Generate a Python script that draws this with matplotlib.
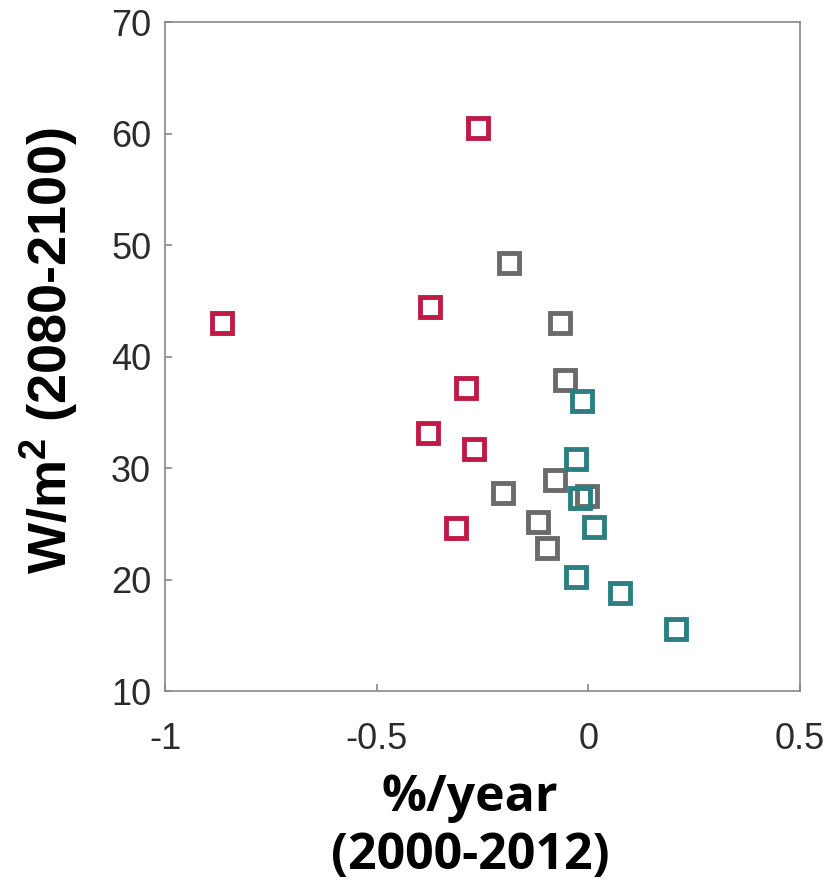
import matplotlib.pyplot as plt

# Data
red_x = [-0.865, -0.261, -0.374, -0.289, -0.379, -0.270, -0.312]
red_y = [43.0, 60.5, 44.4, 37.2, 33.1, 31.7, 24.6]

gray_x = [-0.187, -0.067, -0.055, -0.202, -0.079, -0.003, -0.119, -0.098]
gray_y = [48.4, 43.0, 37.9, 27.8, 28.9, 27.5, 25.2, 22.8]

teal_x = [-0.015, -0.029, -0.020, 0.013, -0.029, 0.075, 0.207]
teal_y = [36.0, 30.8, 27.3, 24.7, 20.2, 18.8, 15.6]

xticks = [-1, -0.5, 0, 0.5]
xtick_labels = ['-1', '-0.5', '0', '0.5']
yticks = [10, 20, 30, 40, 50, 60, 70]

fig = plt.figure(figsize=(8.31, 8.85), dpi=100)
ax = fig.add_axes([0.1986, 0.2192, 0.7641, 0.7559])

mk = dict(marker='s', linestyle='none', markersize=15, markeredgewidth=3.5,
          markerfacecolor='none')
ax.plot(red_x, red_y, markeredgecolor='#BE1A45', **mk)
ax.plot(gray_x, gray_y, markeredgecolor='#6A6A6A', **mk)
ax.plot(teal_x, teal_y, markeredgecolor='#2B7F80', **mk)

ax.set_xlim(-1, 0.5)
ax.set_ylim(10, 70)
ax.set_xticks(xticks)
ax.set_xticklabels(xtick_labels)
ax.set_yticks(yticks)

for s in ax.spines.values():
    s.set_color('#878787')
    s.set_linewidth(1.2)

ax.tick_params(direction='in', length=5, width=1.2, color='#878787',
               labelsize=26, labelcolor='#2b2b2b', pad=10)
ax.tick_params(axis='x', pad=22)
for lab in ax.get_xticklabels() + ax.get_yticklabels():
    lab.set_family('Liberation Sans')

ax.set_xlabel('%/year\n(2000-2012)', fontsize=36, fontweight='bold',
              family='Open Sans', linespacing=1.22)
ax.xaxis.set_label_coords(0.480, -0.122)
ax.set_ylabel('W/m$^\\mathregular{2}$ (2080-2100)', fontsize=39, fontweight='bold',
              family='Liberation Sans')
ax.yaxis.set_label_coords(-0.134, 0.508)

fig.savefig('out.png', dpi=100)
